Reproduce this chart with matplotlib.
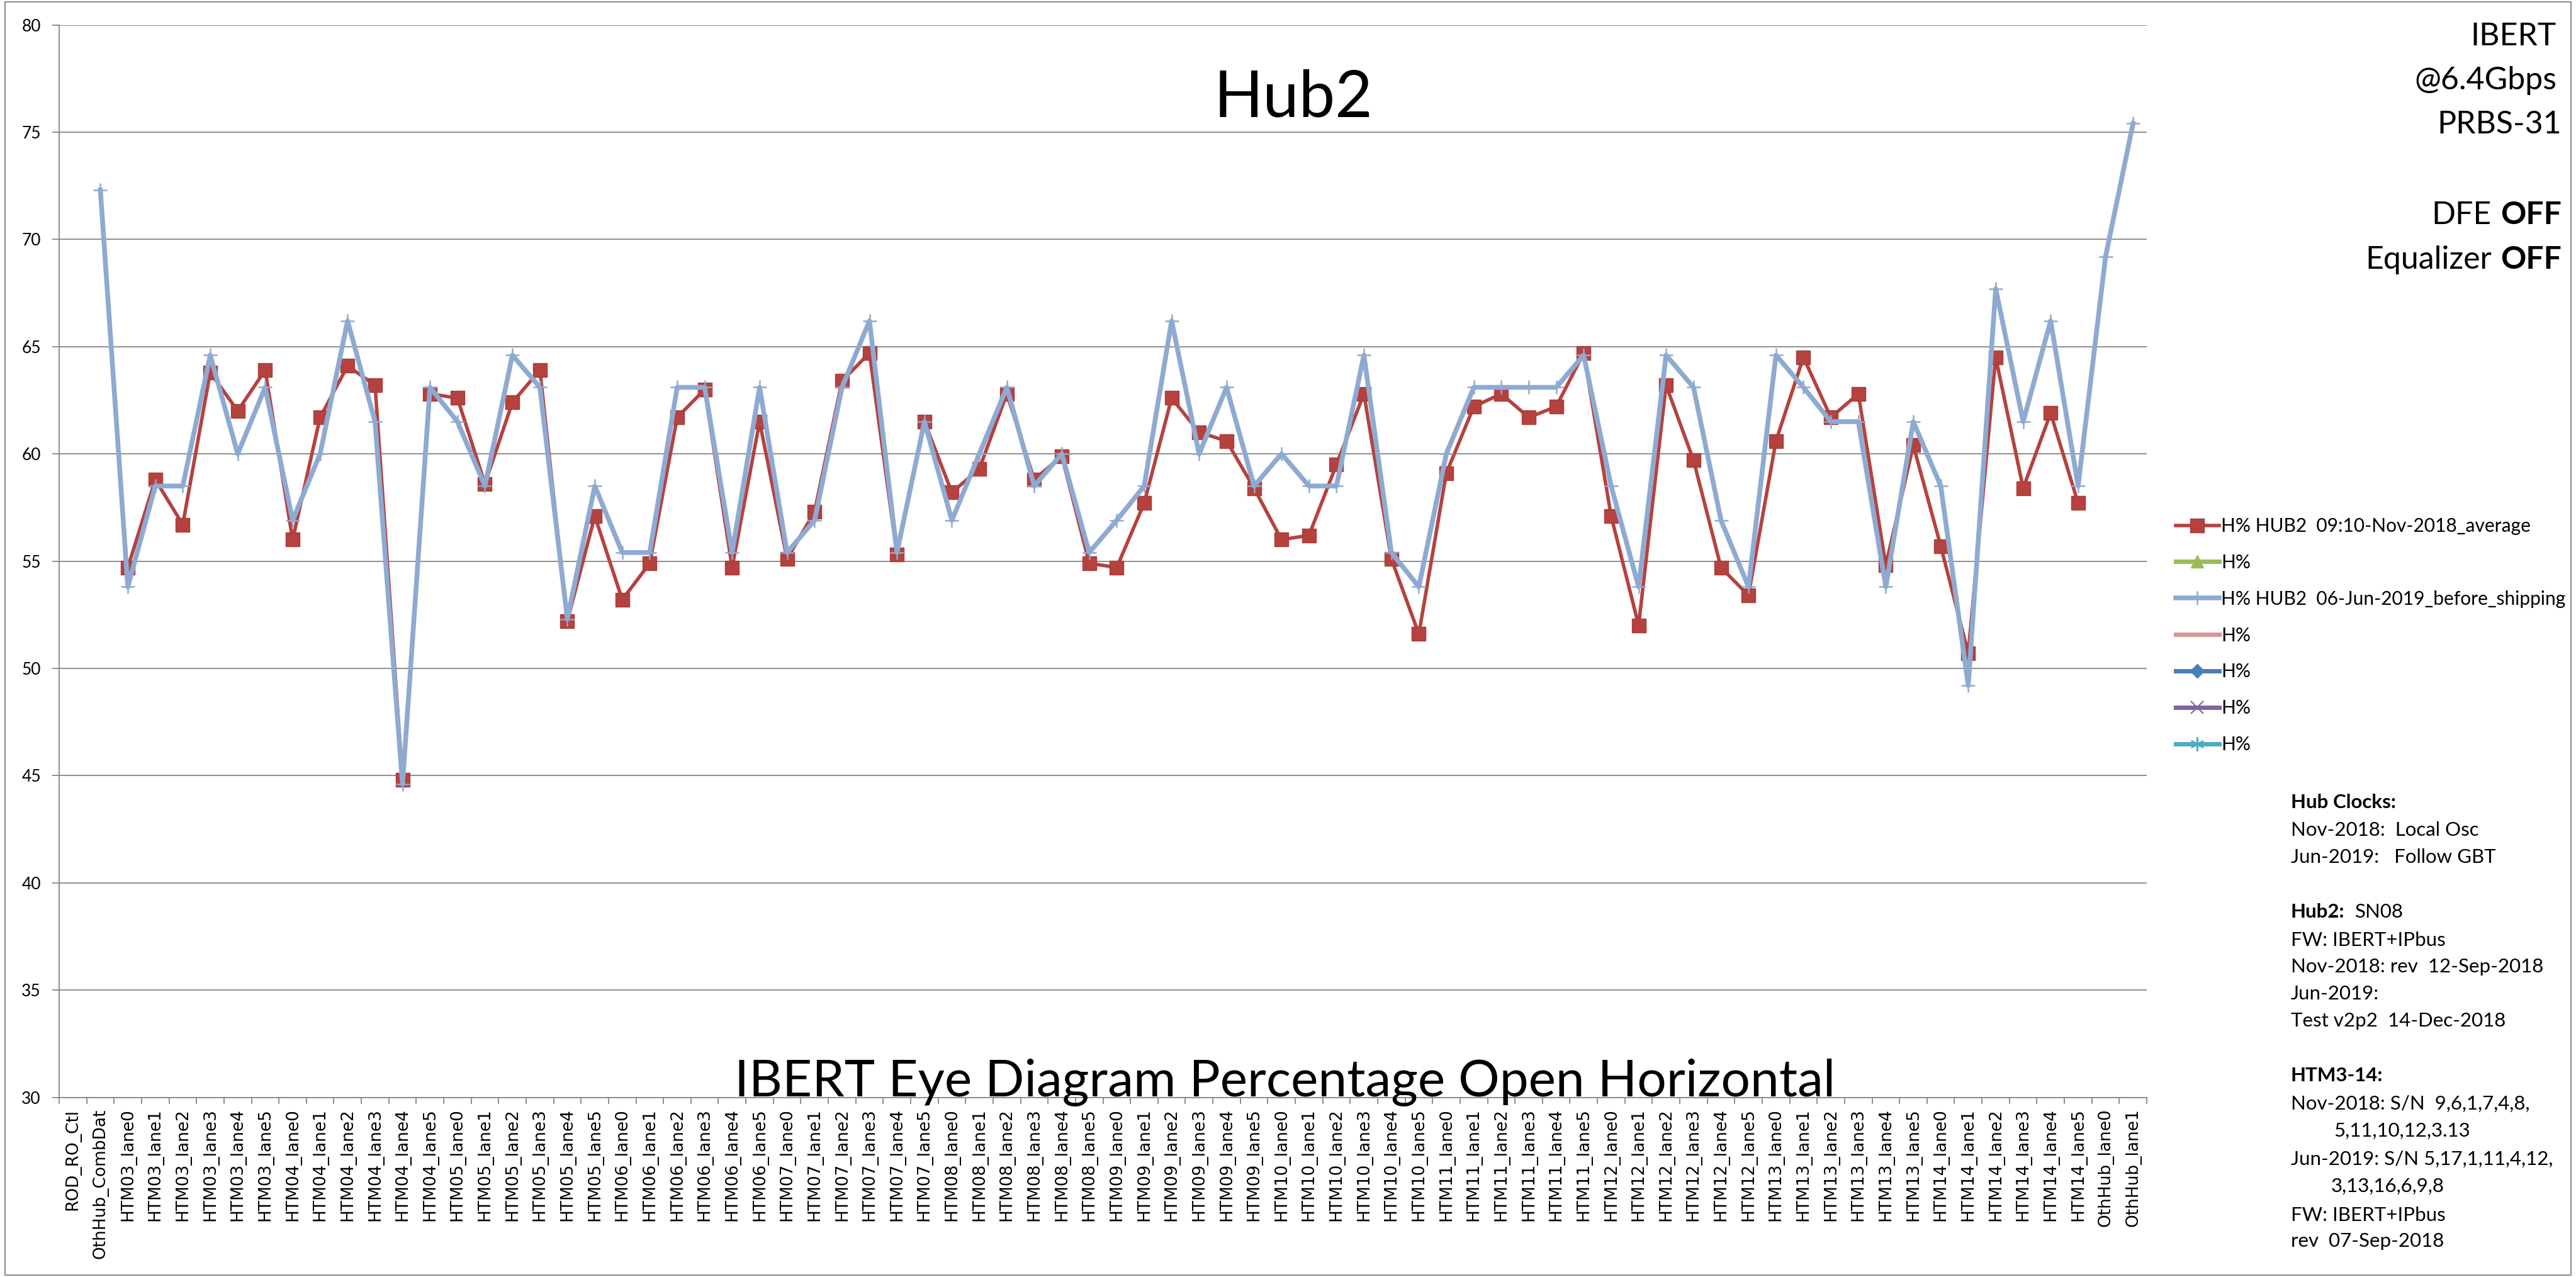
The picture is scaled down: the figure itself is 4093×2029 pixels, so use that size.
import matplotlib
matplotlib.use("Agg")
import matplotlib.pyplot as plt
import numpy as np
from matplotlib.patches import Rectangle

W, H = 4093, 2029
FONT = "Lato"
TICK_FONT = "DejaVu Sans"
GRAY = "#868686"

htm_lanes = [f"HTM{m:02d}_lane{k}" for m in range(3, 15) for k in range(6)]
categories = ["ROD_RO_Ctl", "OthHub_CombDat"] + htm_lanes + ["OthHub_lane0", "OthHub_lane1"]

# H% HUB2 09:10-Nov-2018_average
nov_2018_avg = [
    None, None,
    54.7, 58.8, 56.7, 63.8, 62.0, 63.9,   # HTM03
    56.0, 61.7, 64.1, 63.2, 44.8, 62.8,   # HTM04
    62.6, 58.6, 62.4, 63.9, 52.2, 57.1,   # HTM05
    53.2, 54.9, 61.7, 63.0, 54.7, 61.5,   # HTM06
    55.1, 57.3, 63.4, 64.7, 55.3, 61.5,   # HTM07
    58.2, 59.3, 62.8, 58.8, 59.9, 54.9,   # HTM08
    54.7, 57.7, 62.6, 61.0, 60.6, 58.4,   # HTM09
    56.0, 56.2, 59.5, 62.8, 55.1, 51.6,   # HTM10
    59.1, 62.2, 62.8, 61.7, 62.2, 64.7,   # HTM11
    57.1, 52.0, 63.2, 59.7, 54.7, 53.4,   # HTM12
    60.6, 64.5, 61.7, 62.8, 54.8, 60.4,   # HTM13
    55.7, 50.7, 64.5, 58.4, 61.9, 57.7,   # HTM14
    None, None,
]

# H% HUB2 06-Jun-2019_before_shipping
jun_2019_ship = [
    None, 72.3,
    53.8, 58.5, 58.5, 64.6, 60.0, 63.1,   # HTM03
    56.9, 60.0, 66.2, 61.5, 44.6, 63.1,   # HTM04
    61.5, 58.5, 64.6, 63.1, 52.3, 58.5,   # HTM05
    55.4, 55.4, 63.1, 63.1, 55.4, 63.1,   # HTM06
    55.4, 56.9, 63.1, 66.2, 55.4, 61.5,   # HTM07
    56.9, 60.0, 63.1, 58.5, 60.0, 55.4,   # HTM08
    56.9, 58.5, 66.2, 60.0, 63.1, 58.5,   # HTM09
    60.0, 58.5, 58.5, 64.6, 55.4, 53.8,   # HTM10
    60.0, 63.1, 63.1, 63.1, 63.1, 64.6,   # HTM11
    58.5, 53.8, 64.6, 63.1, 56.9, 53.8,   # HTM12
    64.6, 63.1, 61.5, 61.5, 53.8, 61.5,   # HTM13
    58.5, 49.2, 67.7, 61.5, 66.2, 58.5,   # HTM14
    69.2, 75.4,
]

y_ticks = [30, 35, 40, 45, 50, 55, 60, 65, 70, 75, 80]

legend_labels = [
    "H% HUB2  09:10-Nov-2018_average",
    "H%",
    "H% HUB2  06-Jun-2019_before_shipping",
    "H%",
    "H%",
    "H%",
    "H%",
]

fig = plt.figure(figsize=(W / 100, H / 100), dpi=100)
left, right, top, bottom = 94, 3411, 39.5, 1743.5
ax = fig.add_axes([left / W, 1 - bottom / H, (right - left) / W, (bottom - top) / H])

x = np.arange(len(categories))
red = np.array(nov_2018_avg, dtype=float)
blue = np.array(jun_2019_ship, dtype=float)

ax.plot(x, red, color="#B5423F", lw=4, marker="s", ms=15.5, mec="#A83C39", mew=1, zorder=3)
ax.plot([], [], color="#9BBB59", lw=5, marker="^", ms=14)
ax.plot(x, blue, color="#8EAAD2", lw=5.5, marker="+", ms=16, mew=1.8, zorder=4)
ax.plot([], [], color="#D99694", lw=5)
ax.plot([], [], color="#4A7EBB", lw=5, marker="D", ms=11)
ax.plot([], [], color="#7F63A1", lw=5, marker="x", ms=14, mew=1.5)
ax.plot([], [], color="#4BACC6", lw=5, marker=(6, 2, 0), ms=16, mew=1.5)

ax.set_xlim(-0.5, len(categories) - 0.5)
ax.set_ylim(30, 80)
ax.set_yticks(y_ticks)
ax.set_yticklabels([str(v) for v in y_ticks], family=FONT, fontsize=19)
ax.set_xticks(x)
ax.set_xticklabels(categories, rotation=90, family=TICK_FONT, fontsize=19)
ax.set_xticks(np.arange(-0.5, len(categories), 1), minor=True)
ax.tick_params(axis="x", which="major", length=0, pad=13)
ax.tick_params(axis="x", which="minor", length=7, width=1.3, color=GRAY)
ax.tick_params(axis="y", length=8, width=1.3, color=GRAY, pad=13)
ax.grid(axis="y", color=GRAY, lw=1.3)
ax.set_axisbelow(True)
for side in ("top", "right"):
    ax.spines[side].set_visible(False)
for side in ("left", "bottom"):
    ax.spines[side].set_color(GRAY)
    ax.spines[side].set_linewidth(1.3)

fig.text(2055 / W, 1 - 185 / H, "Hub2", ha="center", va="baseline", family=FONT, fontsize=74)
fig.text(2042 / W, 1 - 1742 / H, "IBERT Eye Diagram Percentage Open Horizontal",
         ha="center", va="baseline", family=FONT, fontsize=59)

fig.legend(ax.get_lines(), legend_labels, loc="upper left",
           bbox_to_anchor=(3457 / W, 1 - 822 / H), frameon=False, prop={"family": FONT, "size": 21.5},
           handlelength=2.3, handletextpad=0.12, labelspacing=1.0, borderpad=0, borderaxespad=0)

renderer = fig.canvas.get_renderer()


def right_mixed(xr, yb, normal, bold, size):
    t = fig.text(xr / W, 1 - yb / H, bold, ha="right", va="baseline", family=FONT,
                 fontsize=size, fontweight="bold")
    w = t.get_window_extent(renderer).width
    fig.text((xr - w - 14) / W, 1 - yb / H, normal, ha="right", va="baseline",
             family=FONT, fontsize=size)


def left_mixed(xl, yc, bold, normal, size):
    t = fig.text(xl / W, 1 - yc / H, bold, ha="left", va="center", family=FONT,
                 fontsize=size, fontweight="bold")
    if normal:
        w = t.get_window_extent(renderer).width
        fig.text((xl + w + 16) / W, 1 - yc / H, normal, ha="left", va="center",
                 family=FONT, fontsize=size)


for txt, xr, yb in [("IBERT", 4062, 72), ("@6.4Gbps", 4062, 142), ("PRBS-31", 4070, 212)]:
    fig.text(xr / W, 1 - yb / H, txt, ha="right", va="baseline", family=FONT, fontsize=36)
right_mixed(4070, 356, "DFE", "OFF", 36)
right_mixed(4070, 427, "Equalizer", "OFF", 36)

notes = [
    (3640, 1275, "Hub Clocks:", None),
    (3640, 1319, None, "Nov-2018:  Local Osc"),
    (3640, 1362, None, "Jun-2019:   Follow GBT"),
    (3640, 1449, "Hub2:", "SN08"),
    (3640, 1494, None, "FW: IBERT+IPbus"),
    (3640, 1536, None, "Nov-2018: rev  12-Sep-2018"),
    (3640, 1579, None, "Jun-2019:"),
    (3640, 1622, None, "Test v2p2  14-Dec-2018"),
    (3640, 1709, "HTM3-14:", None),
    (3640, 1754, None, "Nov-2018: S/N  9,6,1,7,4,8,"),
    (3708, 1797, None, "5,11,10,12,3.13"),
    (3640, 1842, None, "Jun-2019: S/N 5,17,1,11,4,12,"),
    (3704, 1885, None, "3,13,16,6,9,8"),
    (3640, 1931, None, "FW: IBERT+IPbus"),
    (3640, 1972, None, "rev  07-Sep-2018"),
]
for xl, yc, b, n in notes:
    if b:
        left_mixed(xl, yc, b, n, 22.5)
    else:
        fig.text(xl / W, 1 - yc / H, n, ha="left", va="center", family=FONT, fontsize=22.5)

fig.add_artist(Rectangle((0.002, 0.0015), 0.996, 0.997, transform=fig.transFigure,
                         fill=False, ec="#8C8C8C", lw=1.5))

fig.savefig("out.png", dpi=100, facecolor="white")
